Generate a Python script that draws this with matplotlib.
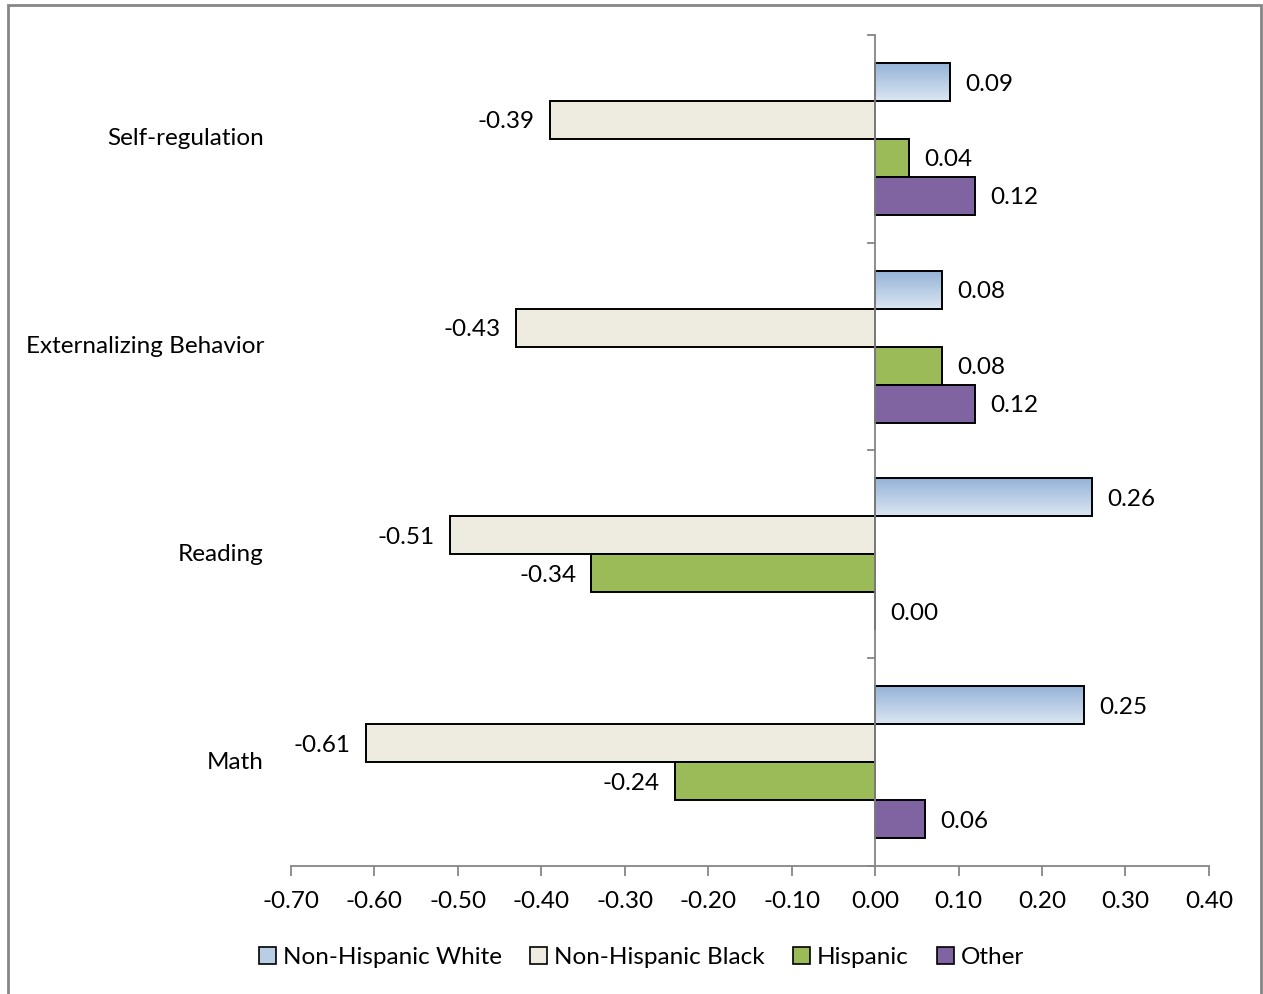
import numpy as np
import matplotlib.pyplot as plt
from matplotlib.patches import Rectangle, Patch
from matplotlib.colors import LinearSegmentedColormap
import matplotlib.transforms as mtransforms

plt.rcParams['font.family'] = ['Lato', 'DejaVu Sans']

# data
outcomes = ['Self-regulation', 'Externalizing Behavior', 'Reading', 'Math']
groups = ['Non-Hispanic White', 'Non-Hispanic Black', 'Hispanic', 'Other']
white = [0.09, 0.08, 0.26, 0.25]
black = [-0.39, -0.43, -0.51, -0.61]
hispanic = [0.04, 0.08, -0.34, -0.24]
other = [0.12, 0.12, 0.00, 0.06]
xticks = [-0.70, -0.60, -0.50, -0.40, -0.30, -0.20, -0.10, 0.00, 0.10, 0.20, 0.30, 0.40]

series = [white, black, hispanic, other]
colors = ['#B9CDE5', '#EEECE1', '#9BBB59', '#8064A2']
grad = LinearSegmentedColormap.from_list('wgrad', ['#95B3D7', '#DCE6F2'])
fs = 17.5

fig = plt.figure(figsize=(12.63, 9.94), dpi=100)
ax = fig.add_axes([0.2304, 0.1288, 0.9572 - 0.2304, 0.9648 - 0.1288])

n = len(outcomes)
bh = 0.1827
# category 0 on top
centers = np.arange(n)[::-1].astype(float)
offsets = np.array([1.5, 0.5, -0.5, -1.5]) * bh

for s, vals in enumerate(series):
    ys = centers + offsets[s]
    if s == 0:
        for y, v in zip(ys, vals):
            ax.imshow(np.linspace(0, 1, 64).reshape(-1, 1), cmap=grad,
                      extent=[0, v, y - bh / 2, y + bh / 2], aspect='auto',
                      zorder=2, origin='upper')
        ax.barh(ys, vals, height=bh, facecolor='none', edgecolor='black',
                linewidth=1.4, zorder=3)
    else:
        ax.barh(ys, vals, height=bh, color=colors[s], edgecolor='black',
                linewidth=1.4, zorder=3)
    for y, v in zip(ys, vals):
        if v < 0:
            ax.annotate(f'{v:.2f}', (v, y), xytext=(-11, -1.5),
                        textcoords='offset points', ha='right', va='center',
                        fontsize=fs)
        else:
            ax.annotate(f'{v:.2f}', (v, y), xytext=(11, -1.5),
                        textcoords='offset points', ha='left', va='center',
                        fontsize=fs)

ax.set_xlim(-0.70, 0.40)
ax.set_ylim(-0.5, n - 0.5)
ax.set_xticks(xticks)
ax.set_xticklabels([f'{t:.2f}' for t in xticks], fontsize=fs)
ax.tick_params(axis='x', direction='out', length=7, width=1.3,
               color='#868686', pad=11)

# category axis sits at zero
for side in ['top', 'right', 'left']:
    ax.spines[side].set_visible(False)
ax.spines['bottom'].set_color('#868686')
ax.spines['bottom'].set_linewidth(1.3)
ax.axvline(0, color='#868686', linewidth=1.3, zorder=4)
ax.set_yticks([])
for b in np.arange(n + 1) - 0.5:
    ax.plot([-0.0085, 0], [b, b], color='#868686', linewidth=1.3,
            clip_on=False, zorder=4)

trans = mtransforms.blended_transform_factory(fig.transFigure, ax.transData)
for c, name in zip(centers, outcomes):
    ax.text(264 / 1263, c, name, transform=trans, ha='right', va='center',
            fontsize=fs)

handles = [Patch(facecolor=col, edgecolor='black', linewidth=1.2)
           for col in colors]
fig.legend(handles, groups, loc='center', bbox_to_anchor=(0.508, 0.037),
           ncol=4, frameon=False, fontsize=fs, handlelength=0.7,
           handleheight=0.7, handletextpad=0.3, columnspacing=1.15)

# outer chart frame
fig.patches.append(Rectangle((8 / 1263, -0.05), 1253 / 1263, 1 - 5 / 994 + 0.05,
                             transform=fig.transFigure, fill=False,
                             edgecolor='#868686', linewidth=2))

fig.savefig('out.png', dpi=100)
